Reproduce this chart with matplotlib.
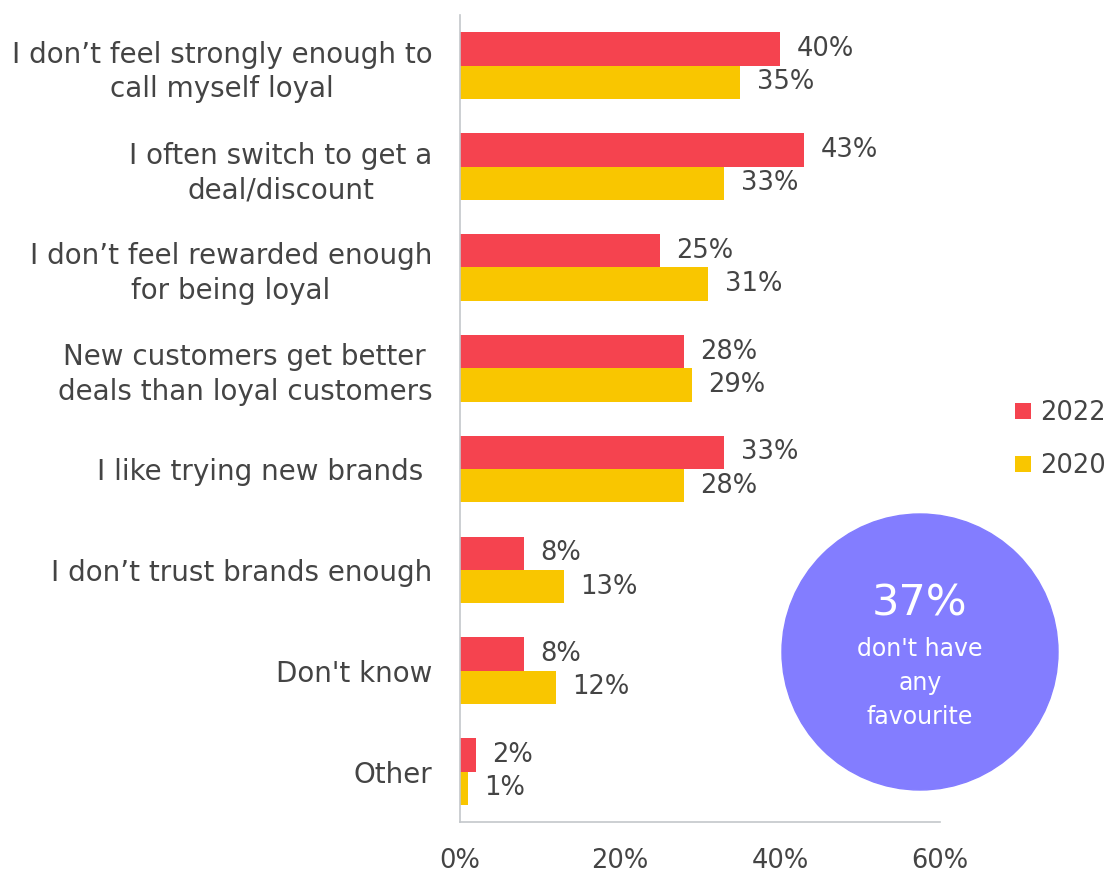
import numpy as np
import matplotlib
matplotlib.use("Agg")
from matplotlib import pyplot as plt
from matplotlib.patches import Circle

reasons = [
    "I don\u2019t feel strongly enough to\ncall myself loyal",
    "I often switch to get a\ndeal/discount",
    "I don\u2019t feel rewarded enough\nfor being loyal",
    "New customers get better\ndeals than loyal customers",
    "I like trying new brands ",
    "I don\u2019t trust brands enough",
    "Don't know",
    "Other",
]
pct_2022 = [40, 43, 25, 28, 33, 8, 8, 2]
pct_2020 = [35, 33, 31, 29, 28, 13, 12, 1]
xticks = [0, 20, 40, 60]
no_favourite = 37

RED = "#F5434F"
YELLOW = "#F9C600"
PURPLE = "#837DFF"
TXT = "#444444"
GRID = "#C3C7CB"

plt.rcParams["font.family"] = ["DejaVu Sans"]

fig = plt.figure(figsize=(11.11, 8.74), dpi=100)
ax = fig.add_axes([0.414, 0.0595, 0.432, 0.923])

y = np.arange(len(reasons))
h = 0.33
b1 = ax.barh(y - h / 2, pct_2022, height=h, color=RED, label="2022")
b2 = ax.barh(y + h / 2, pct_2020, height=h, color=YELLOW, label="2020")

for bars, vals in ((b1, pct_2022), (b2, pct_2020)):
    for bar, v in zip(bars, vals):
        ax.annotate(f"{v}%", (v, bar.get_y() + bar.get_height() / 2),
                    xytext=(12, 0), textcoords="offset points",
                    va="center", ha="left", fontsize=18.5, color=TXT)

ax.set_ylim(len(reasons) - 0.5, -0.5)
ax.set_xlim(0, 60)
ax.set_xticks(xticks)
ax.set_xticklabels([f"{t}%" for t in xticks])
ax.set_yticks(y)
ax.set_yticklabels(reasons, multialignment="center", linespacing=1.3)
ax.tick_params(axis="y", length=0, pad=20, labelsize=20, labelcolor=TXT)
ax.tick_params(axis="x", length=0, pad=19, labelsize=18.5, labelcolor=TXT)

for s in ("top", "right"):
    ax.spines[s].set_visible(False)
for s in ("left", "bottom"):
    ax.spines[s].set_color(GRID)
    ax.spines[s].set_linewidth(1.2)

leg = fig.legend(handles=[b1, b2], loc="center left",
                 bbox_to_anchor=(0.9136, 0.497), frameon=False,
                 borderpad=0, borderaxespad=0,
                 fontsize=18.5, handlelength=0.62, handleheight=0.62,
                 handletextpad=0.35, labelspacing=1.05, labelcolor=TXT)

# bubble callout in the lower right
circ = Circle((9.20, 8.74 - 6.52), 1.38, transform=fig.dpi_scale_trans,
              color=PURPLE, zorder=5, clip_on=False)
fig.add_artist(circ)
fig.text(9.20 / 11.11, 1 - 6.03 / 8.74, f"{no_favourite}%", color="white",
         fontsize=31, ha="center", va="center", zorder=6)
fig.text(9.20 / 11.11, 1 - 6.83 / 8.74, "don't have\nany\nfavourite",
         color="white", fontsize=17, ha="center", va="center",
         linespacing=1.55, zorder=6)

fig.savefig("out.png", dpi=100)
